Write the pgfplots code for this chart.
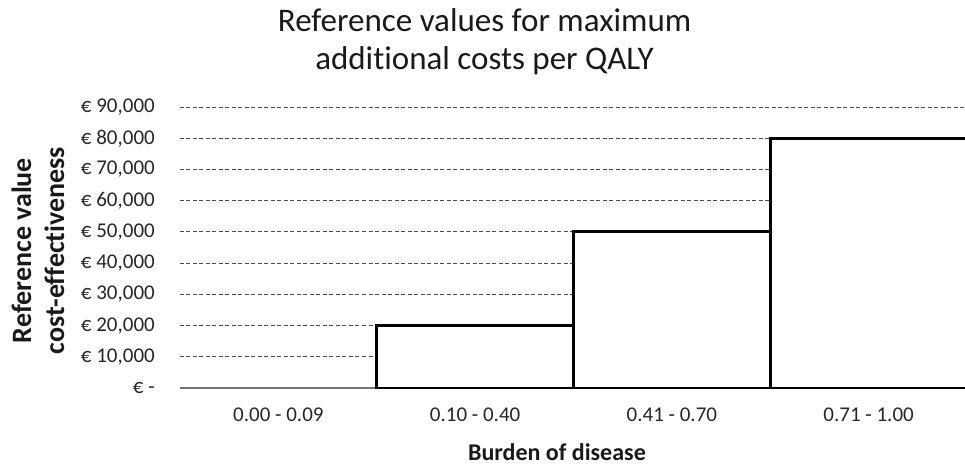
\documentclass[border=0pt]{standalone}
\usepackage{fontspec}
\setmainfont{Carlito}[Ligatures=NoCommon]
\usepackage{pgfplots}
\pgfplotsset{compat=1.18}
\usetikzlibrary{calc}
\begin{document}
\begin{tikzpicture}
\path[use as bounding box] (-180bp,-78bp) rectangle (785bp,388bp);
\begin{axis}[
  at={(0,0)}, anchor=south west,
  scale only axis, width=787bp, height=281bp,
  xmin=-0.5, xmax=3.5, ymin=0, ymax=90000,
  clip=false,
  scaled y ticks=false,
  axis x line*=bottom, axis y line*=left,
  y axis line style={draw=none},
  x axis line style={draw=black!55, line width=1.2bp},
  xtick={0,1,2,3},
  xticklabels={0.00 - 0.09, 0.10 - 0.40, 0.41 - 0.70, 0.71 - 1.00},
  ytick={0,10000,20000,30000,40000,50000,60000,70000,80000,90000},
  yticklabels={{€ -},{€ 10,000},{€ 20,000},{€ 30,000},{€ 40,000},{€ 50,000},{€ 60,000},{€ 70,000},{€ 80,000},{€ 90,000}},
  major tick length=0pt,
  ymajorgrids,
  grid style={dash pattern=on 4bp off 2.5bp, black!70, line width=1bp},
  xticklabel style={font=\fontsize{21bp}{25bp}\selectfont, text=black!85, anchor=center, yshift=-27bp, inner sep=0pt},
  yticklabel style={font=\fontsize{21bp}{25bp}\selectfont, text=black!85, anchor=east, xshift=-25bp, inner sep=0pt},
  title={Reference values for maximum\\addit\kern0pt ional costs per QALY},
  title style={align=center, font=\fontsize{33bp}{38bp}\selectfont, text=black!90,
    at={($(rel axis cs:0.387,1)+(0,59bp)$)}, anchor=center},
  xlabel={Burden of disease},
  xlabel style={font=\bfseries\fontsize{24bp}{29bp}\selectfont, text=black!90,
    at={($(rel axis cs:0.479,0)+(0,-64bp)$)}, anchor=center},
  ylabel={Reference value\\cost-effec\kern0pt t\kern0pt iveness},
  ylabel style={align=center, font=\bfseries\fontsize{28bp}{33bp}\selectfont, text=black!90,
    at={($(rel axis cs:0,0.5)+(-142bp,-3bp)$)}, anchor=center, rotate=0},
  ybar, bar width=1, bar shift=0pt,
]
\addplot[ybar, draw=none, fill=none, forget plot] coordinates {(0,0)};
\addplot[ybar, fill=white, draw=black, line width=2.8bp] coordinates {(1,20000) (2,50000) (3,80000)};
\end{axis}
\end{tikzpicture}
\end{document}
